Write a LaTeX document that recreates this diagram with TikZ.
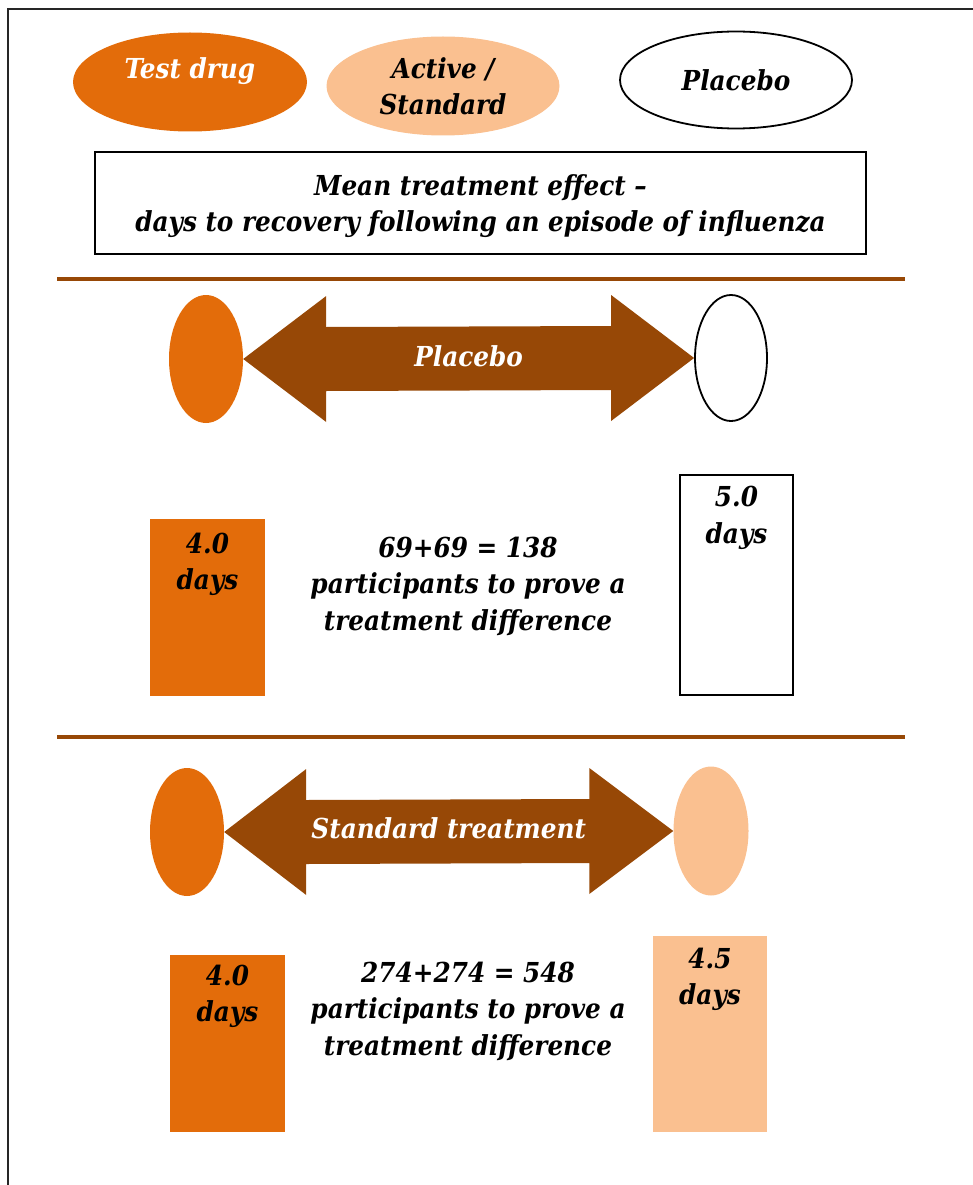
\documentclass[tikz,border=0pt]{standalone}
\usepackage{fontspec}
\setmainfont{DejaVu Serif Condensed}
\usetikzlibrary{shapes.geometric,calc}
\definecolor{testorange}{HTML}{E36C0A}
\definecolor{activepeach}{HTML}{FAC090}
\definecolor{arrowbrown}{HTML}{974806}

\begin{document}
\begin{tikzpicture}[x=1pt, y=-1pt,
    font=\fontsize{27.5}{36.5}\selectfont\bfseries\itshape,
    oval/.style={ellipse, inner sep=0pt},
    daybox/.style={rectangle, inner sep=0pt, minimum width=115pt},
    daytext/.style={align=center, anchor=north, inner sep=0pt},
    dblarrow/.style={fill=arrowbrown},
    sepline/.style={draw=arrowbrown, line width=3.5pt}]
    \useasboundingbox (0,0) rectangle (973,1185);

    % frame
    \draw[black!85, line width=2.8pt] (8,1200) -- (8,9) -- (995,9);

    % legend
    \node[oval, fill=testorange, minimum width=234pt, minimum height=99pt,
          label={[white, yshift=11pt]center:Test drug}] (legtest) at (190,82) {};
    \node[oval, fill=activepeach, minimum width=233pt, minimum height=99pt, align=center] (legactive) at (443,86) {Active /\\Standard};
    \node[oval, draw, line width=1.8pt, minimum width=232pt, minimum height=97pt] (legplacebo) at (736,80) {Placebo};

    \node[draw, line width=1.5pt, minimum width=771pt, minimum height=102pt,
          label={[align=center, yshift=-3pt]center:Mean treatment effect --\\days to recovery following an episode of influenza}] (title) at (480.5,203) {};

    \coordinate (sepa) at (57,279);
    \coordinate (sepb) at (905,279);
    \draw[sepline] (sepa) -- (sepb);

    % placebo comparison
    \node[oval, fill=testorange, minimum width=74pt, minimum height=128pt] (pltest) at (206,359) {};
    \node[oval, draw, line width=1.8pt, minimum width=72pt, minimum height=126pt] (plplacebo) at (731,358) {};
    \fill[dblarrow] (pltest.east) -- ([shift={(83,-63)}]pltest.east) -- ([shift={(83,-32)}]pltest.east)
        -- ([shift={(-83,-32)}]plplacebo.west) -- ([shift={(-83,-63)}]plplacebo.west) -- (plplacebo.west)
        -- ([shift={(-83,63)}]plplacebo.west) -- ([shift={(-83,32)}]plplacebo.west)
        -- ([shift={(83,32)}]pltest.east) -- ([shift={(83,63)}]pltest.east) -- cycle;
    \node[white] (pllabel) at ($(pltest.east)!0.5!(plplacebo.west)+(0,-2)$) {Placebo};

    \node[daybox, fill=testorange, minimum height=177pt] (pltestbox) at (207.5,607.5) {};
    \node[daytext] (pltestdays) at ([yshift=-14pt]pltestbox.north) {4.0\\days};
    \node[daybox, draw, line width=1.5pt, minimum width=113pt, minimum height=220pt] (plplacebobox) at (736.5,585) {};
    \node[daytext] (plplacebodays) at ([yshift=-12pt]plplacebobox.north) {5.0\\days};
    \node[align=center] (plcount) at (468,586) {69+69 = 138\\participants to prove a\\treatment difference};

    \coordinate (sepc) at (57,737);
    \coordinate (sepd) at (905,737);
    \draw[sepline] (sepc) -- (sepd);

    % standard treatment comparison
    \node[oval, fill=testorange, minimum width=74pt, minimum height=128pt] (sttest) at (187,832) {};
    \node[oval, fill=activepeach, minimum width=75pt, minimum height=129pt] (stactive) at (711,831) {};
    \fill[dblarrow] (sttest.east) -- ([shift={(82,-63)}]sttest.east) -- ([shift={(82,-32)}]sttest.east)
        -- ([shift={(-84,-32)}]stactive.west) -- ([shift={(-84,-63)}]stactive.west) -- (stactive.west)
        -- ([shift={(-84,63)}]stactive.west) -- ([shift={(-84,32)}]stactive.west)
        -- ([shift={(82,32)}]sttest.east) -- ([shift={(82,63)}]sttest.east) -- cycle;
    \node[white] (stlabel) at ($(sttest.east)!0.5!(stactive.west)+(0,-3)$) {Standard treatment};

    \node[daybox, fill=testorange, minimum height=177pt] (sttestbox) at (227.5,1043.5) {};
    \node[daytext] (sttestdays) at ([yshift=-10pt]sttestbox.north) {4.0\\days};
    \node[daybox, fill=activepeach, minimum width=114pt, minimum height=196pt] (stactivebox) at (710,1034) {};
    \node[daytext] (stactivedays) at ([yshift=-12pt]stactivebox.north) {4.5\\days};
    \node[align=center] (stcount) at (468,1011) {274+274 = 548\\participants to prove a\\treatment difference};
\end{tikzpicture}
\end{document}
